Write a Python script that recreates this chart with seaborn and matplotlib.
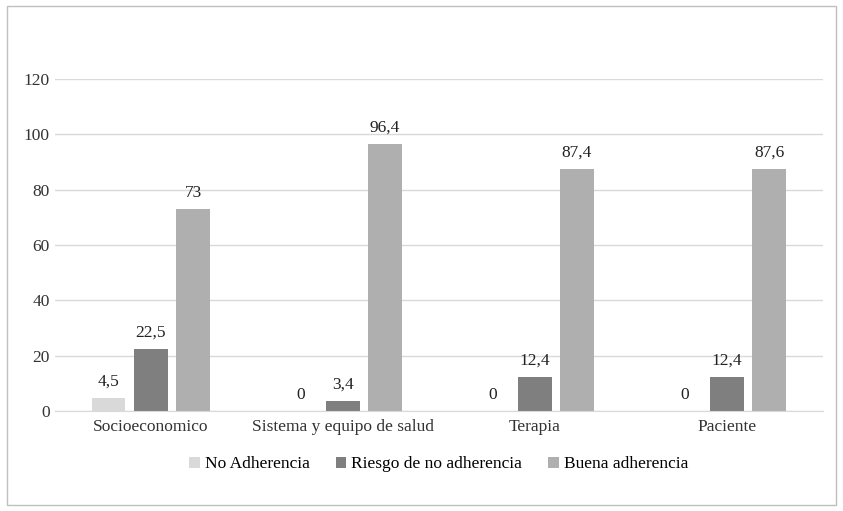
import matplotlib
matplotlib.use("Agg")
import matplotlib.pyplot as plt
import seaborn as sns
import pandas as pd

categories = ["Socioeconomico", "Sistema y equipo de salud", "Terapia", "Paciente"]
series = ["No Adherencia", "Riesgo de no adherencia", "Buena adherencia"]
no_adherencia = [4.5, 0, 0, 0]
riesgo = [22.5, 3.4, 12.4, 12.4]
buena = [73, 96.4, 87.4, 87.6]
colors = ["#d9d9d9", "#7f7f7f", "#afafaf"]

rows = []
for vals, s in zip([no_adherencia, riesgo, buena], series):
    for c, v in zip(categories, vals):
        rows.append({"cat": c, "serie": s, "valor": v})
df = pd.DataFrame(rows)

plt.rcParams["font.family"] = "Liberation Serif"
fig = plt.figure(figsize=(8.43, 5.11), dpi=100)
ax = fig.add_axes([0.065, 0.196, 0.911, 0.649])
sns.barplot(data=df, x="cat", y="valor", hue="serie", palette=colors,
            width=0.66, gap=0.2, ax=ax, legend=True)

for cont in ax.containers:
    labels = [f"{b.get_height():g}".replace(".", ",") for b in cont]
    ax.bar_label(cont, labels=labels, padding=6, fontsize=12.5, color="#222222")

ax.set_ylim(0, 120)
ax.set_yticks(range(0, 121, 20))
ax.yaxis.grid(True, color="#d9d9d9", linewidth=1)
ax.set_axisbelow(True)
for s in ["top", "right", "left"]:
    ax.spines[s].set_visible(False)
ax.spines["bottom"].set_color("#d9d9d9")
ax.tick_params(axis="both", length=0, labelsize=12.5, colors="#333333")
ax.tick_params(axis="x", pad=6)
ax.set_xlabel("")
ax.set_ylabel("")

ax.legend(loc="upper center", bbox_to_anchor=(0.5, -0.09), ncol=3, frameon=False,
          fontsize=12.5, handlelength=0.6, handleheight=0.6, handletextpad=0.3,
          columnspacing=1.5)

fig.patches.append(plt.Rectangle((0.008, 0.012), 0.984, 0.976, transform=fig.transFigure,
                                 fill=False, edgecolor="#bfbfbf", linewidth=1))
fig.savefig("out.png", dpi=100)
